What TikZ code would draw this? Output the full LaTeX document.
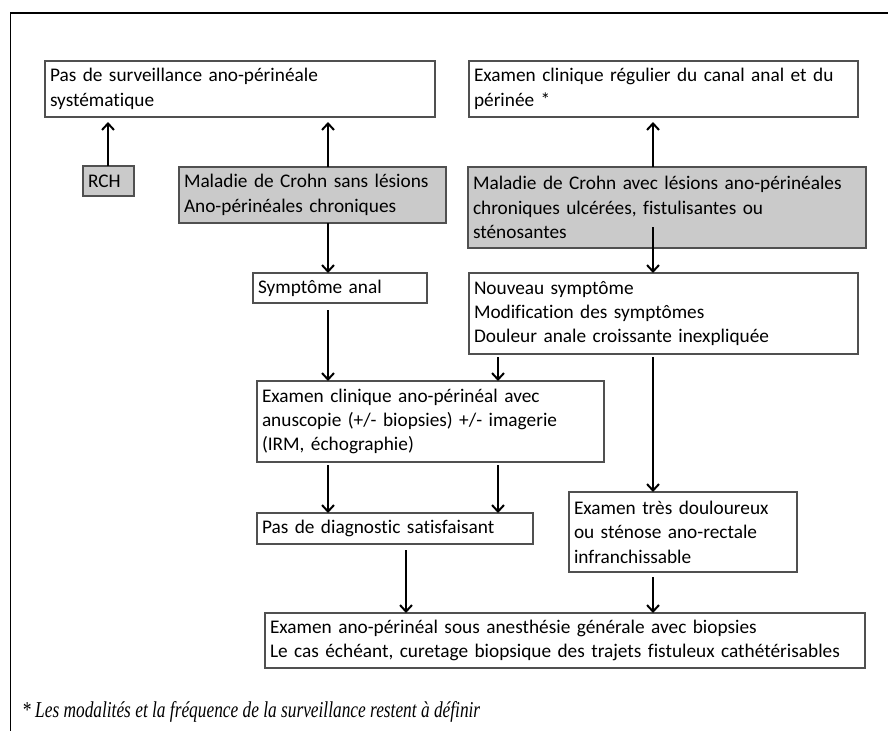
\documentclass[tikz,border=0pt]{standalone}
\usepackage{fontspec}
\setmainfont{Carlito}[Ligatures=NoCommon]
\newfontfamily\notefont{Liberation Serif}
\usetikzlibrary{arrows.meta}
\definecolor{boxfill}{RGB}{202,202,202}
\definecolor{boxline}{RGB}{80,80,80}
\begin{document}
\begin{tikzpicture}[x=1pt,y=-1pt,
  box/.style={draw=boxline, line width=1.2pt, anchor=north west, inner xsep=5pt, inner ysep=0pt,
    outer sep=0pt, align=left, font=\fontsize{19.3}{24.4}\selectfont},
  greybox/.style={box, fill=boxfill},
  arr/.style={line width=2pt, -{Straight Barb[length=6.5pt,width=12pt]}}]
\useasboundingbox (0,0) rectangle (888,731);
\fill[white] (0,0) rectangle (888,731);
% frame
\draw[line width=1.4pt] (888,13) -- (10.5,13) -- (10.5,731);

% boxes
\node[box, text width=380pt, minimum height=56pt] (A) at (45,61)
  {Pas de surveillance ano-périnéale\\systématique};
\node[box, text width=379pt, minimum height=56pt] (B) at (469,61)
  {Examen clinique régulier du canal anal et du\\périnée *};
\node[greybox, text width=41pt, minimum height=30pt] (RCH) at (83,166) {RCH};
\node[greybox, text width=257pt, minimum height=56pt] (SANS) at (179,167)
  {Maladie de Crohn sans lésions\\Ano-périnéales chroniques};
\node[greybox, text width=388pt, minimum height=81pt] (AVEC) at (468,167)
  {Maladie de Crohn avec lésions ano-périnéales\\chroniques ulcérées, fistulisantes ou\\sténosantes};
\node[box, text width=164pt, minimum height=30pt] (SYMP) at (253,273) {Symptôme anal};
\node[box, text width=379pt, minimum height=81pt] (NOUV) at (469,273)
  {Nouveau symptôme\\Modification des symptômes\\Douleur anale croissante inexpliquée};
\node[box, text width=337pt, minimum height=81pt] (EXCL) at (257,381)
  {Examen clinique ano-périnéal avec\\anuscopie (+/- biopsies) +/- imagerie\\(IRM, échographie)};
\node[box, text width=266pt, minimum height=31pt] (PASD) at (257,513) {Pas de diagnostic satisfaisant};
\node[box, text width=218pt, minimum height=80pt] (TRES) at (569,492)
  {Examen très douloureux\\ou sténose ano-rectale\\infranchissable};
\node[box, text width=590pt, minimum height=55pt] (BOT) at (265,613)
  {\mbox{Examen ano-périnéal sous anesthésie générale avec biopsies}\\\mbox{Le cas échéant, curetage biopsique des trajets fistuleux cathétérisables}};

% footnote
\node[anchor=west, inner sep=0pt] (NOTE) at (22,712)
  {\resizebox{458pt}{16pt}{\notefont\itshape\fontsize{16}{19}\selectfont * Les modalités et la fréquence de la surveillance restent à définir}};

% x positions of connectors
\coordinate (x108) at (108,0);
\coordinate (x328) at (328,0);
\coordinate (x406) at (406,0);
\coordinate (x498) at (498,0);
\coordinate (x653) at (653,0);

% connectors
\draw[arr, shorten >=5pt] (RCH.north -| x108) -- (A.south -| x108);
\draw[arr, shorten >=5pt] (SANS.north -| x328) -- (A.south -| x328);
\draw[arr, shorten >=5pt] (AVEC.north -| x653) -- (B.south -| x653);
\draw[arr] (SANS.south -| x328) -- (SYMP.north -| x328);
\draw[arr] ([yshift=21pt]AVEC.south -| x653) -- (NOUV.north -| x653);
\draw[arr, shorten <=7pt] (SYMP.south -| x328) -- (EXCL.north -| x328);
\draw[arr, shorten <=3pt] (NOUV.south -| x498) -- (EXCL.north -| x498);
\draw[arr, shorten <=3pt] (NOUV.south -| x653) -- (TRES.north -| x653);
\draw[arr, shorten <=3pt] (EXCL.south -| x328) -- (PASD.north -| x328);
\draw[arr, shorten <=3pt] (EXCL.south -| x498) -- (PASD.north -| x498);
\draw[arr, shorten <=6pt] (PASD.south -| x406) -- (BOT.north -| x406);
\draw[arr, shorten <=5pt] (TRES.south -| x653) -- (BOT.north -| x653);
\end{tikzpicture}
\end{document}
